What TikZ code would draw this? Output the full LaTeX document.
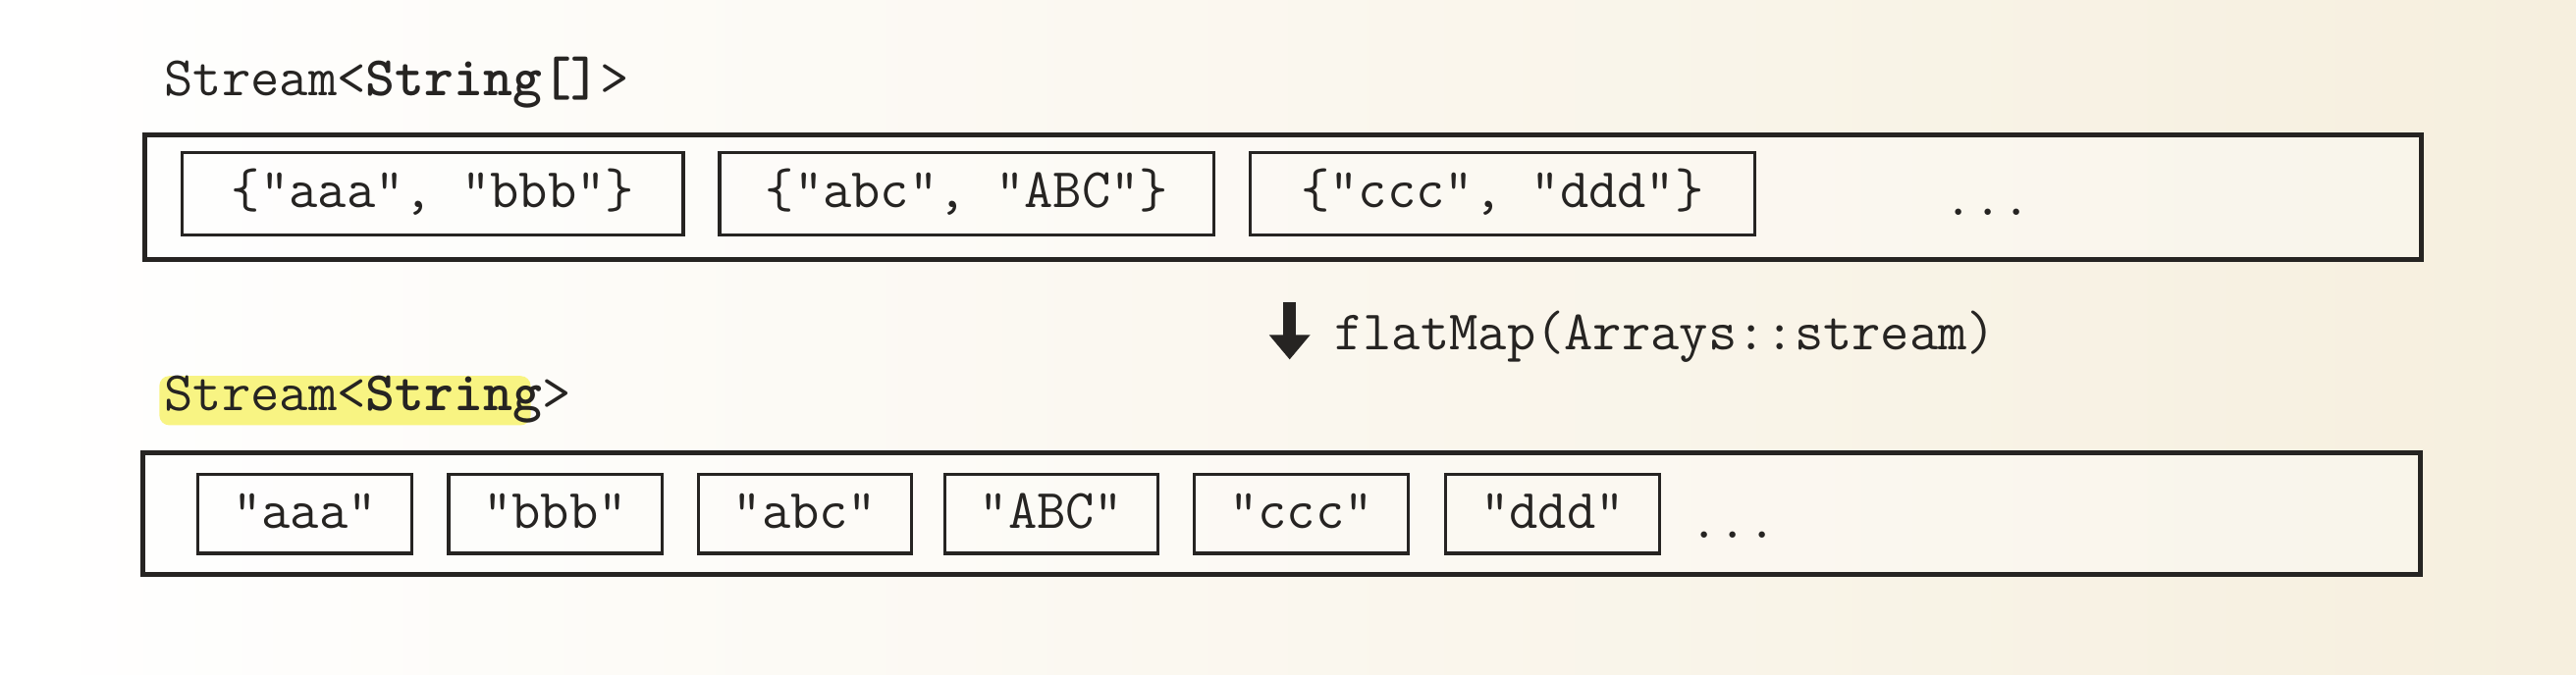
\documentclass[tikz,border=0pt]{standalone}
\usepackage{fontspec}
\usetikzlibrary{arrows.meta}
\definecolor{paper}{RGB}{246,239,222}
\definecolor{ink}{RGB}{38,36,34}
\definecolor{hlyellow}{RGB}{248,243,110}
\tikzset{
  txt/.style={font=\ttfamily\fontsize{34}{40}\selectfont, text=ink},
  outerbox/.style={draw=ink, line width=3pt, fill=white, fill opacity=0.35, text opacity=1},
  ibox/.style={txt, draw=ink, line width=2pt, minimum height=50pt, inner sep=0pt,
    text height=22pt, text depth=5pt},
  jbox/.style={ibox, minimum width=130pt, minimum height=48pt},
  bigarrow/.style={draw=ink, line width=8pt, -{Triangle[width=24pt,length=15pt]}}
}
\begin{document}
\begin{tikzpicture}[x=1pt,y=-1pt]
  \fill[left color=white, right color=paper] (0,0) rectangle (1568,411);
  % labels
  \node[txt, anchor=west, inner sep=0pt] (lab1) at (100,50) {Stream<\textbf{String[]}>};
  \fill[hlyellow, rounded corners=6pt, opacity=0.85] (97,229) rectangle (323,259);
  \node[txt, anchor=west, inner sep=0pt] (lab2) at (100,243) {Stream<\textbf{String}>};
  % outer boxes
  \node[outerbox, minimum width=1386pt, minimum height=76pt, inner sep=0pt] (out1) at (781,120) {};
  \node[outerbox, minimum width=1386pt, minimum height=74pt, inner sep=0pt] (out2) at (780,313) {};
  % row 1
  \node[ibox, minimum width=305pt] (a1) at (263.5,118) {\{"aaa", "bbb"\}};
  \node[ibox, minimum width=301pt] (b1) at (588.5,118) {\{"abc", "ABC"\}};
  \node[ibox, minimum width=307pt] (c1) at (914.5,118) {\{"ccc", "ddd"\}};
  \node[txt, anchor=base, inner sep=0pt] (d1) at (1210,131) {...};
  % arrow
  \coordinate (atop) at (785,184);
  \coordinate (abot) at (785,219);
  \draw[bigarrow] (atop) -- (abot);
  \node[txt, anchor=west, inner sep=0pt] (fm) at (812,205) {flatMap(Arrays::stream)};
  % row 2
  \node[jbox] (s1) at (185.5,313) {"aaa"};
  \node[jbox] (s2) at (338,313) {"bbb"};
  \node[jbox] (s3) at (490,313) {"abc"};
  \node[jbox] (s4) at (640,313) {"ABC"};
  \node[jbox] (s5) at (792,313) {"ccc"};
  \node[jbox] (s6) at (945,313) {"ddd"};
  \node[txt, anchor=base, inner sep=0pt] (d2) at (1055,328) {...};
\end{tikzpicture}
\end{document}
